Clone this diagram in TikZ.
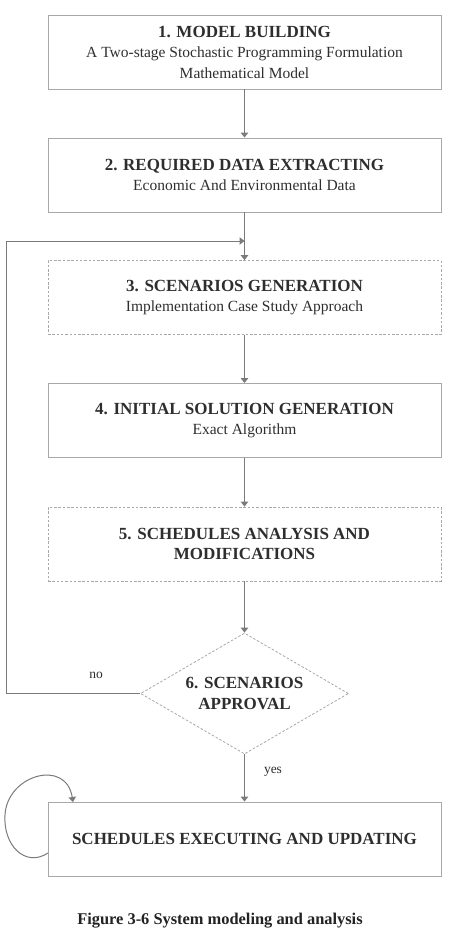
\documentclass[tikz,border=0pt]{standalone}
\usepackage{fontspec}
\setmainfont{Liberation Serif}
\usetikzlibrary{arrows.meta,shapes.geometric}
\definecolor{txt}{HTML}{2E2E2E}
\definecolor{capc}{HTML}{222222}
\definecolor{linec}{HTML}{7A7A7A}
\definecolor{boxc}{HTML}{A8A8A8}
\newcommand{\ttl}[1]{{\fontsize{17}{20.5}\selectfont\bfseries #1}}
\newcommand{\sub}[1]{{\fontsize{15.5}{20.5}\selectfont #1}}
\begin{document}
\begin{tikzpicture}[x=1pt,y=-1pt,
  stepbox/.style={draw=boxc,line width=0.9pt,rectangle,minimum width=393pt,minimum height=74pt,
    align=center,text=txt,inner sep=2pt,font=\fontsize{17}{20.5}\selectfont},
  dashbox/.style={stepbox,dash pattern=on 2.5pt off 1.8pt,line width=0.8pt},
  arr/.style={draw=linec,line width=1pt,-{Triangle[length=5pt,width=7.5pt]}},
  lbl/.style={text=txt,font=\fontsize{13.5}{16}\selectfont,inner sep=0pt}]
\useasboundingbox (0,0) rectangle (451,938);
\node[stepbox] (b1) at (244.5,52) {\ttl{1. MODEL BUILDING}\\\sub{A Two-stage Stochastic Programming Formulation}\\\sub{Mathematical Model}};
\node[stepbox] (b2) at (244.5,175) {\ttl{2. REQUIRED DATA EXTRACTING}\\\sub{Economic And Environmental Data}};
\node[dashbox] (b3) at (244.5,297.5) {\ttl{3. SCENARIOS GENERATION}\\\sub{Implementation Case Study Approach}};
\node[stepbox] (b4) at (244.5,420.5) {\ttl{4. INITIAL SOLUTION GENERATION}\\\sub{Exact Algorithm}};
\node[dashbox] (b5) at (244.5,544) {\ttl{5. SCHEDULES ANALYSIS AND}\\\ttl{MODIFICATIONS}};
\node[diamond,draw=boxc,dash pattern=on 2.5pt off 1.8pt,line width=0.8pt,minimum width=208pt,minimum height=121pt,
  aspect=1.72,inner sep=0pt,align=center,text=txt,font=\fontsize{17}{20.5}\selectfont] (d6) at (244.5,693.5) {\ttl{6. SCENARIOS}\\\ttl{APPROVAL}};
\node[stepbox] (b6) at (244.5,839) {\ttl{SCHEDULES EXECUTING AND UPDATING}};
\node[lbl] (no) at (96,675) {no};
\node[lbl] (yes) at (273,772) {yes};
\node[text=capc,font=\fontsize{16.4}{19}\selectfont\bfseries,inner sep=0pt] (cap) at (220,921) {Figure 3-6 System modeling and analysis};
\coordinate (nl) at (6,241);
\coordinate (s1) at (48,853);
\coordinate (s2) at (5,815);
\coordinate (s3) at (73,802);
\draw[arr] (b1.south) -- (b2.north);
\draw[arr] (b2.south) -- (b3.north);
\draw[arr] (d6.west) -| (nl) -- (b3.north |- nl);
\draw[arr] (b3.south) -- (b4.north);
\draw[arr] (b4.south) -- (b5.north);
\draw[arr] (b5.south) -- (d6.north);
\draw[arr] (d6.south) -- (b6.north);
\draw[arr] (s1) .. controls (25,868) and (3,845) .. (s2) .. controls (7,775) and (66,758) .. (s3);
\end{tikzpicture}
\end{document}
